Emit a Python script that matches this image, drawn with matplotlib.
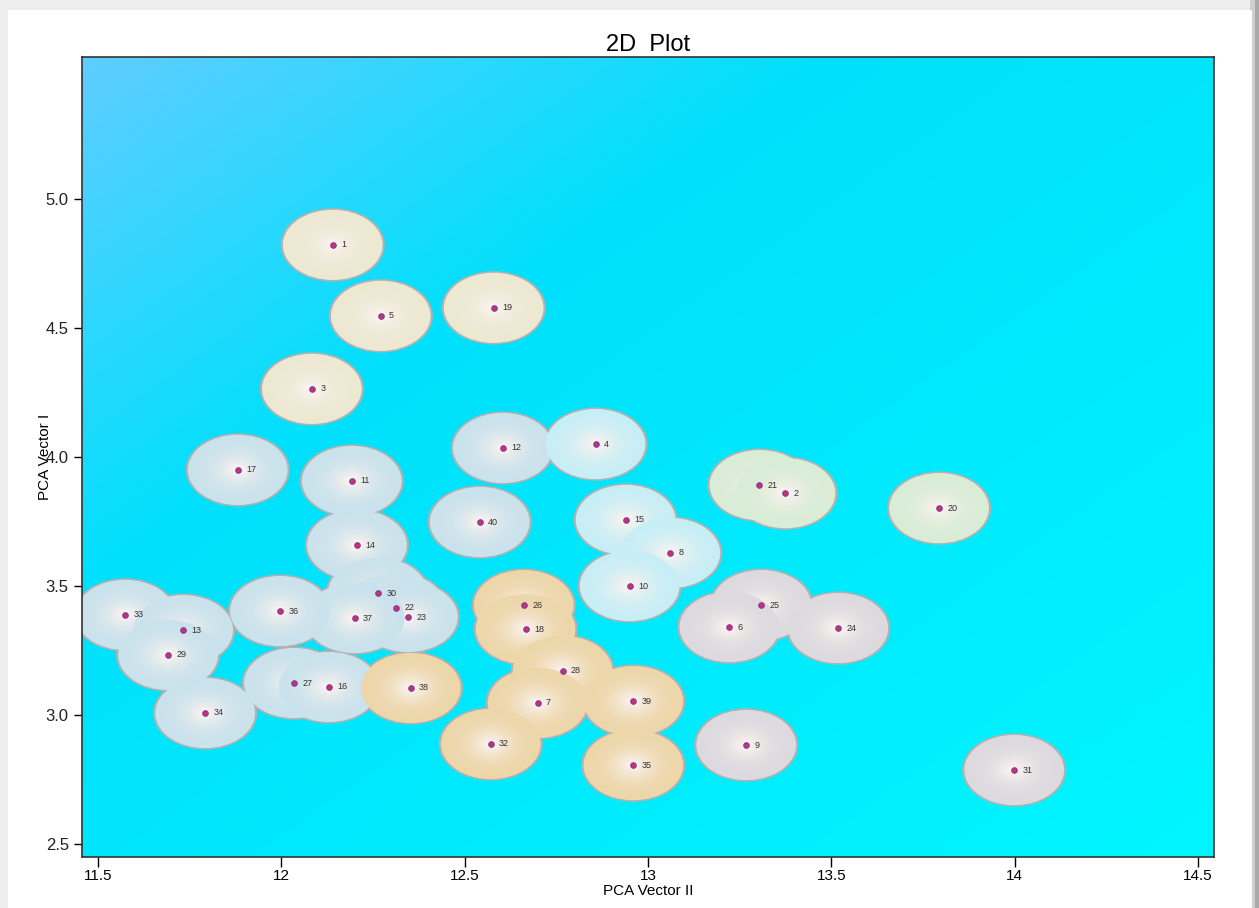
import numpy as np
import matplotlib
matplotlib.use("Agg")
import matplotlib.pyplot as plt
from matplotlib.patches import Circle, Rectangle

# point ids and coordinates
ids = [1, 5, 19, 3, 17, 11, 12, 4, 40, 14, 15, 8, 21, 2, 20, 30, 22, 23, 37, 36,
       33, 13, 29, 10, 26, 18, 25, 6, 24, 27, 16, 38, 28, 7, 39, 34, 32, 9, 35, 31]
pca2 = [12.140, 12.271, 12.579, 12.083, 11.881, 12.192, 12.604, 12.857, 12.541, 12.206,
        12.939, 13.061, 13.304, 13.375, 13.794, 12.263, 12.312, 12.345, 12.200, 11.996,
        11.574, 11.732, 11.691, 12.950, 12.661, 12.666, 13.309, 13.222, 13.519, 12.034,
        12.129, 12.353, 12.767, 12.699, 12.960, 11.792, 12.571, 13.268, 12.960, 13.999]
pca1 = [4.822, 4.547, 4.578, 4.264, 3.950, 3.907, 4.035, 4.050, 3.748, 3.659,
        3.756, 3.628, 3.891, 3.860, 3.802, 3.473, 3.415, 3.380, 3.376, 3.403,
        3.388, 3.329, 3.233, 3.500, 3.426, 3.333, 3.426, 3.341, 3.337, 3.124,
        3.109, 3.105, 3.171, 3.047, 3.054, 3.008, 2.888, 2.884, 2.806, 2.787]

groups = {
    "cream": [1, 5, 19, 3],
    "green": [21, 2, 20],
    "blue": [17, 11, 12, 40, 14, 33, 13, 29, 36, 37, 30, 22, 23, 27, 16, 34],
    "cyan": [4, 15, 8, 10],
    "tan": [26, 18, 28, 7, 39, 32, 35, 38],
    "gray": [6, 25, 24, 9, 31],
}
edge_cols = {
    "cream": (236, 232, 210),
    "green": (216, 236, 214),
    "blue": (202, 226, 236),
    "cyan": (200, 238, 245),
    "tan": (236, 214, 170),
    "gray": (220, 218, 222),
}
center_col = np.array((250, 242, 238)) / 255.0

grp_of = {}
for g, members in groups.items():
    for m in members:
        grp_of[m] = g

R = 0.136
FONT = ["Liberation Sans", "DejaVu Sans"]

fig = plt.figure(figsize=(12.59, 9.08), dpi=100)
fig.patch.set_facecolor("#ededed")
# white paper with shadow
fig.add_artist(Rectangle((0.997, 0), 0.003, 1, transform=fig.transFigure,
                         facecolor="#a8a8a8", edgecolor="none", zorder=-5))
fig.add_artist(Rectangle((0.993, 0), 0.004, 1, transform=fig.transFigure,
                         facecolor="#cfcfcf", edgecolor="none", zorder=-5))
fig.add_artist(Rectangle((8 / 1259, 0), (1252 - 8) / 1259, 1 - 10 / 908,
                         transform=fig.transFigure, facecolor="white",
                         edgecolor="none", zorder=-4))

ax = fig.add_axes([82 / 1259, 1 - 857 / 908, (1214 - 82) / 1259, 800 / 908])
ax.set_xlim(11.456, 14.544)
ax.set_ylim(2.45, 5.55)

# background gradient
n = 200
u = np.linspace(0, 1, n)
X, Y = np.meshgrid(u, u)
t = np.clip((X + Y) / 2.0, 0, 1)  # 0 at top-left, 1 at bottom-right (origin upper)
c0 = np.array((95, 205, 255)) / 255.0
c1 = np.array((0, 224, 252)) / 255.0
c2 = np.array((0, 246, 255)) / 255.0
s1 = np.clip(t / 0.33, 0, 1)[..., None]
s2 = np.clip((t - 0.33) / 0.67, 0, 1)[..., None]
img = c0 * (1 - s1) + c1 * s1
img = img * (1 - s2) + c2 * s2
ax.imshow(img, extent=[0, 1, 0, 1], transform=ax.transAxes, origin="upper",
          aspect="auto", zorder=0)

# outlines first so overlapping bubbles merge
for i, x, y in zip(ids, pca2, pca1):
    ax.add_patch(Circle((x, y), R + 0.006, facecolor="#b2b2b2",
                        edgecolor="none", zorder=1))

steps = 14
for i, x, y in zip(ids, pca2, pca1):
    ec = np.array(edge_cols[grp_of[i]]) / 255.0
    for k in range(steps):
        f = k / (steps - 1)
        r = R * (1 - f * 0.9)
        w = f ** 2.2
        col = ec * (1 - w) + center_col * w
        ax.add_patch(Circle((x, y), r, facecolor=col, edgecolor="none", zorder=2))

ax.scatter(pca2, pca1, s=16, c="#d0306a", edgecolors="#6a3aa8", linewidths=0.7,
           zorder=3)
for i, x, y in zip(ids, pca2, pca1):
    ax.annotate(str(i), (x, y), xytext=(6, 0), textcoords="offset points",
                fontsize=6.5, color="#333333", va="center", family=FONT, zorder=4)

ax.set_xticks([11.5, 12, 12.5, 13, 13.5, 14, 14.5])
ax.set_xticklabels(["11.5", "12", "12.5", "13", "13.5", "14", "14.5"],
                   family=FONT, fontsize=11)
ax.set_yticks([2.5, 3.0, 3.5, 4.0, 4.5, 5.0])
ax.set_yticklabels(["2.5", "3.0", "3.5", "4.0", "4.5", "5.0"],
                   family=FONT, fontsize=12, color="#222222")
ax.tick_params(length=6, width=1)
ax.tick_params(axis="x", length=7, pad=2)
for sp in ax.spines.values():
    sp.set_color("#333333")
    sp.set_linewidth(1.2)

ax.set_xlabel("PCA Vector II", family=FONT, fontsize=11)
ax.xaxis.set_label_coords(0.5, -0.034)
ax.set_ylabel("PCA Vector I", family=FONT, fontsize=11)
ax.yaxis.set_label_coords(-0.0265, 0.5)
ax.set_title("2D  Plot", family=FONT, fontsize=17, pad=4)

fig.savefig("out.png", dpi=100, facecolor=fig.get_facecolor())
